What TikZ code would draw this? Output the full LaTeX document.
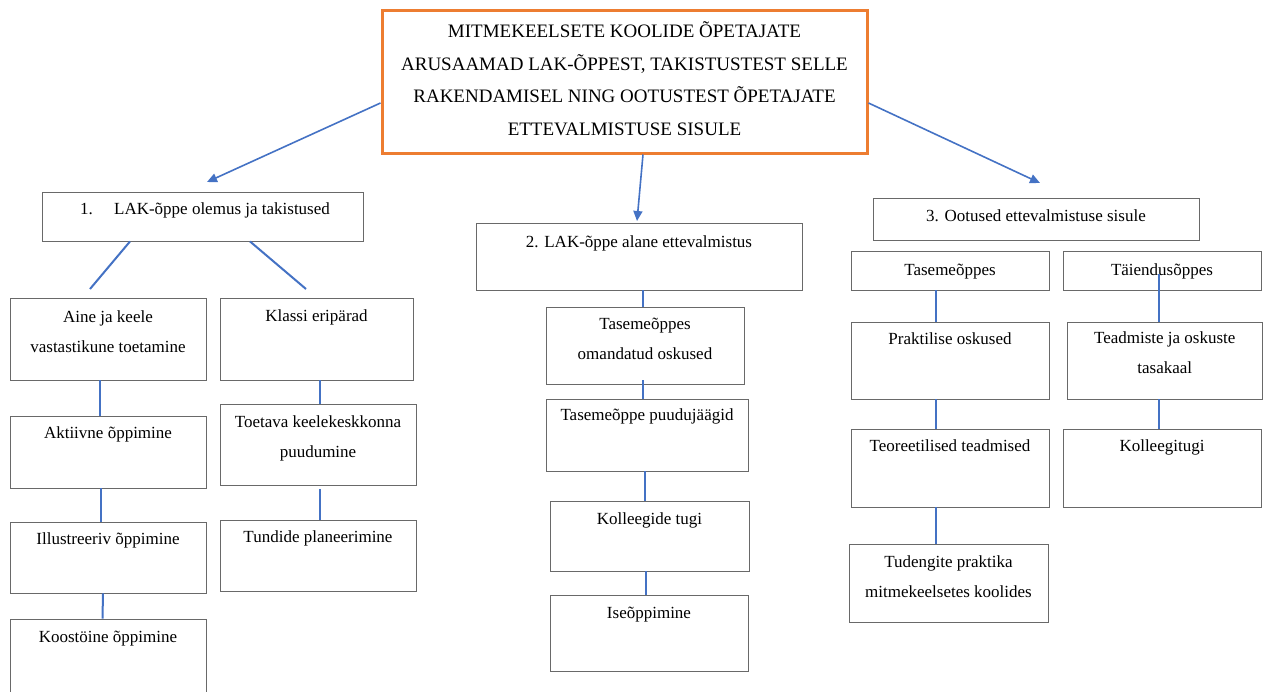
\documentclass[tikz,border=0pt]{standalone}
\usepackage{fontspec}
\setmainfont{Liberation Serif}
\usetikzlibrary{arrows.meta}
\definecolor{lnblue}{RGB}{68,114,196}
\definecolor{orng}{RGB}{237,125,49}
\definecolor{bxgray}{RGB}{105,105,105}
\newcommand\mybox[5]{\node[bx, minimum width={#4-#2}, minimum height={#5-#3}] (#1) at ({(#2+#4)/2},{(#3+#5)/2}) {};}
\begin{document}
\begin{tikzpicture}[x=1pt,y=-1pt,
  bx/.style={draw=bxgray, line width=0.9pt, inner sep=0pt, fill=white},
  tx/.style={inner sep=0pt, align=center, anchor=base, yshift=-2pt, font=\fontsize{17}{29.5}\selectfont},
  ln/.style={draw=lnblue, line width=2pt},
  arr/.style={draw=lnblue, line width=1.6pt, -{Triangle[length=10pt,width=9pt]}}]
\useasboundingbox (0,0) rectangle (1263,691);
% top box
\node[draw=orng, line width=3pt, inner sep=0pt, minimum width=485, minimum height=143] (top) at (624.5,81.5) {};
\node[inner sep=0pt, align=center, anchor=base, font=\fontsize{19}{32.7}\selectfont] (topt) at (624.5,135.4)
 {MITMEKEELSETE KOOLIDE ÕPETAJATE\\ARUSAAMAD LAK-ÕPPEST, TAKISTUSTEST SELLE\\RAKENDAMISEL NING OOTUSTEST ÕPETAJATE\\ETTEVALMISTUSE SISULE};
% level 1
\mybox{b1}{42}{192}{363}{241}
\node[tx] (b1t) at (205,212) {1.\hspace{1.25em}LAK-õppe olemus ja takistused};
\mybox{b2}{476}{223}{802}{290}
\node[tx] (b2t) at (639,245) {2. LAK-õppe alane ettevalmistus};
\mybox{b3}{873}{198}{1199}{240}
\node[tx] (b3t) at (1036,219) {3. Ootused ettevalmistuse sisule};
% arrows
\coordinate (t1) at (207,182);
\coordinate (t2) at (637,221);
\coordinate (t3) at (1040,183);
\draw[arr] ([yshift=-21.5pt]top.west) -- (t1);
\draw[arr] ([xshift=18.5pt]top.south) -- (t2);
\draw[arr] ([yshift=-21.5pt]top.east) -- (t3);
% left column
\mybox{aine}{10}{298}{206}{380}
\node[tx] (ainet) at (108,350) {Aine ja keele\\vastastikune toetamine};
\mybox{akt}{10}{416}{206}{488}
\node[tx] (aktt) at (108,436) {Aktiivne õppimine};
\mybox{ill}{10}{522}{206}{593}
\node[tx] (illt) at (108,542) {Illustreeriv õppimine};
\mybox{koo}{10}{619}{206}{700}
\node[tx] (koot) at (108,640) {Koostöine õppimine};
\mybox{kla}{220}{298}{413}{380}
\node[tx] (klat) at (316.5,319) {Klassi eripärad};
\mybox{toe}{220}{404}{416}{485}
\node[tx] (toet) at (318,455) {Toetava keelekeskkonna\\puudumine};
\mybox{tun}{220}{520}{416}{591}
\node[tx] (tunt) at (318,540) {Tundide planeerimine};
\coordinate (e1) at (90,289);
\coordinate (e2) at (306,289);
\draw[ln] ([xshift=-72.5pt]b1.south) -- (e1);
\draw[ln] ([xshift=47.5pt]b1.south) -- (e2);
\draw[ln] ([xshift=-8pt]aine.south) -- ([xshift=-8pt]akt.north);
\draw[ln] ([xshift=-7pt]akt.south) -- ([xshift=-7pt]ill.north);
\draw[ln] ([xshift=-5pt]ill.south) -- ([xshift=-5.5pt]koo.north);
\draw[ln] ([xshift=3.5pt]kla.south) -- ([xshift=2pt]toe.north);
\draw[ln] ([xshift=2pt,yshift=-4pt]toe.south) -- ([xshift=2pt]tun.north);
% middle column
\mybox{tas}{546}{307}{744}{384}
\node[tx] (tast) at (645,357) {Tasemeõppes\\omandatud oskused};
\mybox{puu}{546}{399}{748}{471}
\node[tx] (puut) at (647,418) {Tasemeõppe puudujäägid};
\mybox{kol}{550}{501}{749}{571}
\node[tx] (kolt) at (649.5,522) {Kolleegide tugi};
\mybox{ise}{550}{595}{748}{671}
\node[tx] (iset) at (649,616) {Iseõppimine};
\draw[ln] ([xshift=4pt]b2.south) -- ([xshift=-2pt]tas.north);
\draw[ln] ([xshift=-2pt,yshift=4pt]tas.south) -- ([xshift=-4pt]puu.north);
\draw[ln] ([xshift=-2pt]puu.south) -- ([xshift=-4.5pt]kol.north);
\draw[ln] ([xshift=-3.5pt]kol.south) -- ([xshift=-3pt]ise.north);
% right column
\mybox{rt}{851}{251}{1049}{290}
\node[tx] (rtt) at (950,273) {Tasemeõppes};
\mybox{rp}{851}{322}{1049}{399}
\node[tx] (rpt) at (950,342) {Praktilise oskused};
\mybox{rte}{851}{429}{1049}{507}
\node[tx] (rtet) at (950,449) {Teoreetilised teadmised};
\mybox{rtu}{849}{544}{1048}{622}
\node[tx] (rtut) at (948.5,595) {Tudengite praktika\\mitmekeelsetes koolides};
\mybox{ta}{1063}{251}{1261}{290}
\node[tx] (tat) at (1162,273) {Täiendusõppes};
\mybox{td}{1067}{322}{1262.5}{399}
\node[tx] (tdt) at (1164.75,371) {Teadmiste ja oskuste\\tasakaal};
\mybox{kt}{1063}{429}{1261}{507}
\node[tx] (ktt) at (1162,449) {Kolleegitugi};
\draw[ln] ([xshift=-14pt]rt.south) -- ([xshift=-14pt]rp.north);
\draw[ln] ([xshift=-14pt]rp.south) -- ([xshift=-14pt]rte.north);
\draw[ln] ([xshift=-14pt]rte.south) -- ([xshift=-12.5pt]rtu.north);
\draw[ln] ([xshift=-3pt,yshift=16pt]ta.south) -- ([xshift=-5.75pt]td.north);
\draw[ln] ([xshift=-5.75pt]td.south) -- ([xshift=-3pt]kt.north);
\end{tikzpicture}
\end{document}
